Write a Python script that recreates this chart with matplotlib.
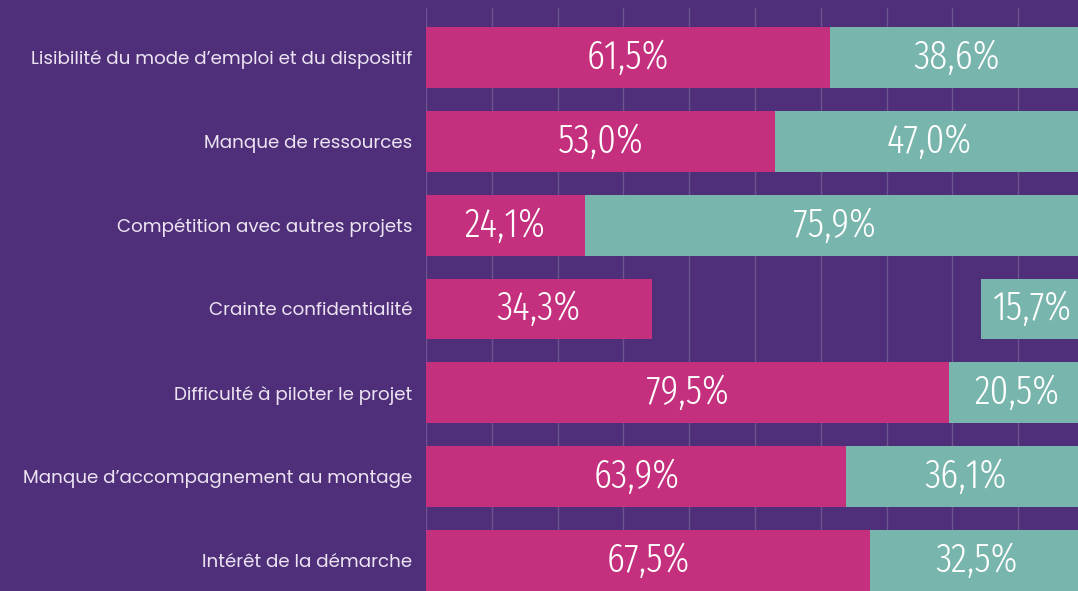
import numpy as np
import matplotlib
matplotlib.use("Agg")
import matplotlib.pyplot as plt

# freins cités, de haut en bas
categories = [
    "Lisibilité du mode d’emploi et du dispositif",
    "Manque de ressources",
    "Compétition avec autres projets",
    "Crainte confidentialité",
    "Difficulté à piloter le projet",
    "Manque d’accompagnement au montage",
    "Intérêt de la démarche",
]
oui = [61.5, 53.0, 24.1, 34.3, 79.5, 63.9, 67.5]
non = [38.6, 47.0, 75.9, 15.7, 20.5, 36.1, 32.5]

BG = "#4F2F79"
PINK = "#C4307E"
TEAL = "#77B5AD"
GRID = "#6A5591"

fig = plt.figure(figsize=(10.78, 5.91), dpi=100, facecolor=BG)
# axe volontairement plus large que la figure : la barre à 100 % est rognée à droite
ax = fig.add_axes([426 / 1078, 0, 658 / 1078, 583 / 591])
ax.set_facecolor(BG)

y = np.arange(len(categories))
h = 0.726
oui = np.array(oui)
non = np.array(non)

ax.barh(y, oui, height=h, color=PINK, zorder=2)
ax.barh(y, non, left=100 - non, height=h, color=TEAL, zorder=2)

def pct(v):
    return f"{v:.1f}%".replace(".", ",")

lab = dict(ha="center", va="center", color="white", fontsize=29,
           family=["Fira Sans Extra Condensed", "DejaVu Sans"], weight=300, zorder=3)
for yi, a, b in zip(y, oui, non):
    ax.text(a / 2, yi, pct(a), **lab)
    ax.text(100 - b / 2, yi, pct(b), **lab)

ax.set_xlim(0, 100)
ax.set_ylim(len(categories) - 1 + 0.363, -0.589)
ax.set_xticks(np.arange(0, 100, 10))
ax.xaxis.grid(True, color=GRID, linewidth=1)
ax.set_axisbelow(True)
ax.tick_params(axis="x", length=0, labelbottom=False)

ax.set_yticks(y)
ax.set_yticklabels(categories, family=["Poppins", "DejaVu Sans"], fontsize=13.2, color="#ECE4F2")
ax.tick_params(axis="y", length=0, pad=10)

for s in ax.spines.values():
    s.set_visible(False)

fig.savefig("out.png", facecolor=BG)
